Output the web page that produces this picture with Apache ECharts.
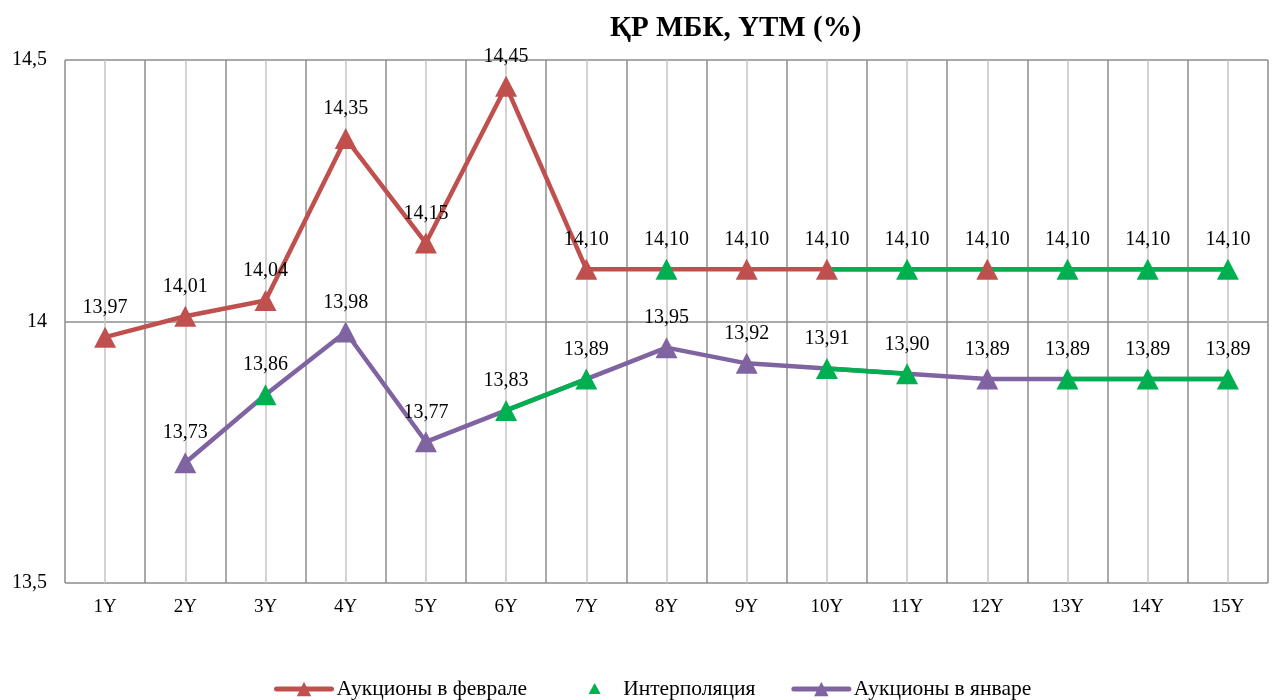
<!DOCTYPE html>
<html>
<head>
<meta charset="utf-8">
<title>ҚР МБК, YTM (%)</title>
<script src="https://cdn.jsdelivr.net/npm/echarts@6/dist/echarts.min.js"></script>
<style>
  html, body { margin: 0; padding: 0; background: #fff; }
  #main { width: 1272px; height: 700px; }
</style>
</head>
<body>
<div id="main"></div>
<script>
// сроки
const categories = ['1Y', '2Y', '3Y', '4Y', '5Y', '6Y', '7Y', '8Y', '9Y', '10Y', '11Y', '12Y', '13Y', '14Y', '15Y'];
// доходности, %
const febYield = [13.97, 14.01, 14.04, 14.35, 14.15, 14.45, 14.10, 14.10, 14.10, 14.10, 14.10, 14.10, 14.10, 14.10, 14.10];
const janYield = [null, 13.73, 13.86, 13.98, 13.77, 13.83, 13.89, 13.95, 13.92, 13.91, 13.90, 13.89, 13.89, 13.89, 13.89];
// точки, полученные интерполяцией
const febInterpolated = ['8Y', '11Y', '13Y', '14Y', '15Y'];
const janInterpolated = ['3Y', '6Y', '7Y', '10Y', '11Y', '13Y', '14Y', '15Y'];
// участки кривой, проведённые интерполяцией
const febInterpSpans = [['10Y', '15Y']];
const janInterpSpans = [['6Y', '7Y'], ['10Y', '11Y'], ['13Y', '15Y']];

const RED = '#C0504D', GREEN = '#00B050', PURPLE = '#8064A2';
const FONT = '"Liberation Serif", "DejaVu Serif", "Times New Roman", serif';

function inSpans(i, spans) {
  return spans.some(s => i >= categories.indexOf(s[0]) && i <= categories.indexOf(s[1]));
}
function spanLine(values, spans) {
  return values.map((v, i) => (v != null && inSpans(i, spans)) ? v : '-');
}
function points(values, list, keep) {
  const out = [];
  values.forEach((v, i) => {
    if (v == null) return;
    if ((list.indexOf(categories[i]) >= 0) === keep) out.push([categories[i], v]);
  });
  return out;
}
function fmt(p) {
  const v = Array.isArray(p.value) ? p.value[1] : p.value;
  return v.toFixed(2).replace('.', ',');
}

const labelOpt = {
  show: true, position: 'top', distance: 9,
  formatter: fmt, color: '#000', fontFamily: FONT, fontSize: 20
};
const markerSize = [22, 21];

function baseLine(name, data, color) {
  return {
    name: name, type: 'line', data: data.map(v => v == null ? '-' : v),
    color: color, symbol: 'triangle', showSymbol: false, z: 2,
    lineStyle: { width: 4.5, color: color, cap: 'round', join: 'round' }
  };
}
function greenLine(data) {
  return {
    name: 'interp-line', type: 'line', data: data, symbol: 'none', z: 3,
    lineStyle: { width: 4.5, color: GREEN, cap: 'round', join: 'round' }
  };
}
function dots(name, data, color) {
  return {
    name: name, type: 'scatter', data: data, symbol: 'triangle', symbolSize: markerSize,
    itemStyle: { color: color, opacity: 1 }, label: labelOpt, z: 4
  };
}

const chart = echarts.init(document.getElementById('main'));
chart.setOption({
  animation: false,
  backgroundColor: '#fff',
  title: {
    text: 'ҚР МБК, YTM (%)', left: 605, top: 9,
    textStyle: { fontFamily: FONT, fontSize: 29, fontWeight: 'bold', color: '#000' }
  },
  legend: {
    left: 269, top: 673, itemWidth: 55, itemHeight: 18, itemGap: 36,
    textStyle: { fontFamily: FONT, fontSize: 21.5, color: '#000' },
    data: [
      { name: 'Аукционы в феврале', lineStyle: { width: 5, color: RED } },
      { name: 'Интерполяция', icon: 'path://M0 0M55 18M31.5 3L37.5 14L25.5 14Z' },
      { name: 'Аукционы в январе', lineStyle: { width: 5, color: PURPLE } }
    ]
  },
  grid: { left: 65, right: 4, top: 60, bottom: 117, containLabel: false },
  xAxis: [{
    type: 'category', data: categories, boundaryGap: true,
    axisLine: { show: false }, axisTick: { show: false }, splitLine: { show: false },
    axisLabel: { color: '#000', fontFamily: FONT, fontSize: 19, margin: 15 }
  }, {
    // вертикальная сетка: тёмные линии по границам сроков, светлые по центрам
    type: 'value', min: 0, max: 15, interval: 0.5, position: 'bottom',
    axisLine: { show: false }, axisTick: { show: false }, axisLabel: { show: false },
    splitLine: { show: true, lineStyle: { color: ['#8c8c8c', '#c4c4c4'], width: 1.5 } }
  }],
  yAxis: {
    type: 'value', min: 13.5, max: 14.5, interval: 0.5,
    axisLine: { show: false }, axisTick: { show: false },
    axisLabel: {
      color: '#000', fontFamily: FONT, fontSize: 20, margin: 18,
      formatter: v => String(v).replace('.', ',')
    },
    splitLine: { lineStyle: { color: '#8c8c8c', width: 1.5 } }
  },
  series: [
    baseLine('Аукционы в феврале', febYield, RED),
    baseLine('Аукционы в январе', janYield, PURPLE),
    greenLine(spanLine(febYield, febInterpSpans)),
    greenLine(spanLine(janYield, janInterpSpans)),
    dots('feb-points', points(febYield, febInterpolated, false), RED),
    dots('jan-points', points(janYield, janInterpolated, false), PURPLE),
    dots('Интерполяция',
      points(febYield, febInterpolated, true).concat(points(janYield, janInterpolated, true)), GREEN)
  ]
});
</script>
</body>
</html>
